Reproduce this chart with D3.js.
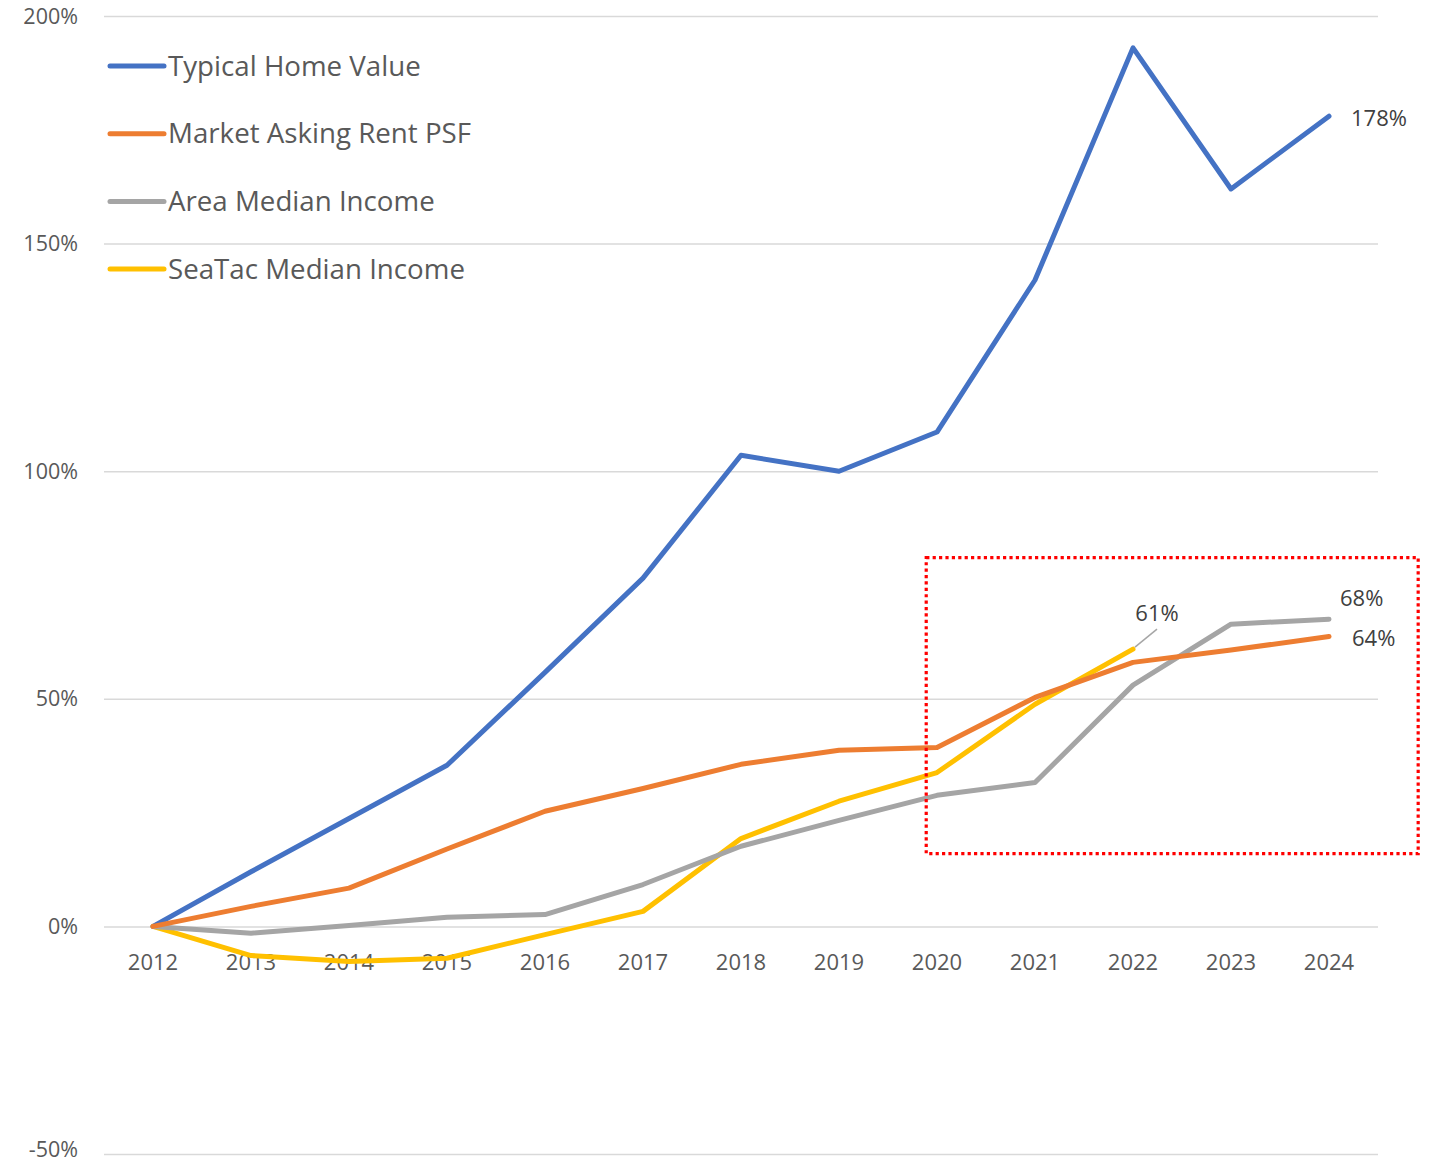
<!DOCTYPE html>
<html>
<head>
<meta charset="utf-8">
<script src="https://cdn.jsdelivr.net/npm/d3@7"></script>
<style>
  body { margin: 0; background: #fff; }
  svg { display: block; font-family: "Open Sans", "Noto Sans", sans-serif; }
</style>
</head>
<body>
<svg id="chart" width="1433" height="1164"></svg>
<script>
// data (percent change since 2012)
const years = [2012, 2013, 2014, 2015, 2016, 2017, 2018, 2019, 2020, 2021, 2022, 2023, 2024];
const homeValue = [0, 12, 23.7, 35.4, 55.8, 76.5, 103.5, 100, 108.6, 142, 193, 162, 178];
const askingRent = [0, 4.4, 8.4, 17, 25.3, 30.3, 35.6, 38.7, 39.3, 50.3, 58, 60.7, 63.7];
const areaIncome = [0, -1.5, 0.2, 2, 2.6, 9.2, 17.6, 23.3, 28.8, 31.6, 53, 66.4, 67.5];
const seatacIncome = [0, -6.4, -7.7, -7, -1.8, 3.3, 19.3, 27.5, 33.8, 48.8, 60.9];
const yTicks = [-50, 0, 50, 100, 150, 200];
const seriesNames = ["Typical Home Value", "Market Asking Rent PSF", "Area Median Income", "SeaTac Median Income"];
const seriesColors = ["#4472c4", "#ed7d31", "#a5a5a5", "#ffc000"];
const endLabels = ["178%", "64%", "68%", "61%"];

const series = [homeValue, askingRent, areaIncome, seatacIncome].map((vals, i) => ({
  name: seriesNames[i], color: seriesColors[i], label: endLabels[i],
  points: vals.map((v, j) => [years[j], v])
}));

const svg = d3.select("#chart");
const plot = { left: 104, right: 1378, top: 16, bottom: 1154 };

const x = d3.scalePoint().domain(years).range([plot.left, plot.right]).padding(0.5);
const y = d3.scaleLinear().domain([-50, 200]).range([plot.bottom, plot.top]);
// linear version of x for annotations between categories
const xl = d3.scaleLinear().domain([2012, 2024]).range([x(2012), x(2024)]);

// gridlines
svg.append("g").selectAll("line").data(yTicks).join("line")
  .attr("x1", plot.left).attr("x2", plot.right)
  .attr("y1", d => y(d) + 0.5).attr("y2", d => y(d) + 0.5)
  .attr("stroke", "#d9d9d9").attr("stroke-width", 1.5);

// y labels (bottom one nudged up so it stays inside the page)
svg.append("g").selectAll("text").data(yTicks).join("text")
  .attr("x", 78).attr("y", d => d === -50 ? y(d) - 5 : y(d))
  .attr("dy", "0.35em").attr("text-anchor", "end")
  .attr("font-size", 21.5).attr("fill", "#595959")
  .text(d => d + "%");

// x labels
svg.append("g").selectAll("text").data(years).join("text")
  .attr("x", d => x(d)).attr("y", y(0) + 44)
  .attr("text-anchor", "middle")
  .attr("font-size", 22).attr("fill", "#595959")
  .text(d => d);

const line = d3.line().x(d => x(d[0])).y(d => y(d[1]));

const drawOrder = [0, 3, 2, 1];
drawOrder.forEach(i => {
  const s = series[i];
  svg.append("path").datum(s.points)
    .attr("d", line)
    .attr("fill", "none").attr("stroke", s.color)
    .attr("stroke-width", 5).attr("stroke-linejoin", "round").attr("stroke-linecap", "round");
});

// end labels
const lab = svg.append("g").attr("font-size", 22).attr("fill", "#404040");
const last = s => s.points[s.points.length - 1];
let p = last(series[0]);
lab.append("text").attr("x", x(p[0]) + 22).attr("y", y(p[1]) + 2).attr("dy", "0.35em").text(series[0].label);
p = last(series[1]);
lab.append("text").attr("x", x(p[0]) + 23).attr("y", y(p[1]) + 2).attr("dy", "0.35em").text(series[1].label);
p = last(series[2]);
lab.append("text").attr("x", x(p[0]) + 11).attr("y", y(p[1]) - 21).attr("dy", "0.35em").text(series[2].label);
p = last(series[3]);
svg.append("line")
  .attr("x1", x(p[0]) + 2).attr("y1", y(p[1]) - 2)
  .attr("x2", x(p[0]) + 24).attr("y2", y(p[1]) - 20)
  .attr("stroke", "#a6a6a6").attr("stroke-width", 1.5);
lab.append("text").attr("x", x(p[0]) + 24).attr("y", y(p[1]) - 36).attr("dy", "0.35em")
  .attr("text-anchor", "middle").text(series[3].label);

// red dotted highlight box
const box = { x0: 2019.89, x1: 2024.91, y0: 81, y1: 16 };
svg.append("rect")
  .attr("x", xl(box.x0)).attr("y", y(box.y0))
  .attr("width", xl(box.x1) - xl(box.x0)).attr("height", y(box.y1) - y(box.y0))
  .attr("fill", "none").attr("stroke", "#ff0000")
  .attr("stroke-width", 3.2).attr("stroke-dasharray", "3.2,3.2");

// legend
const legend = svg.append("g").selectAll("g").data(series).join("g")
  .attr("transform", (d, i) => `translate(110, ${66 + i * 67.7})`);
legend.append("line").attr("x1", 0).attr("x2", 54)
  .attr("stroke", d => d.color).attr("stroke-width", 5).attr("stroke-linecap", "round");
legend.append("text").attr("x", 58).attr("dy", "0.35em")
  .attr("font-size", 27.7).attr("fill", "#595959")
  .text(d => d.name);
</script>
</body>
</html>
